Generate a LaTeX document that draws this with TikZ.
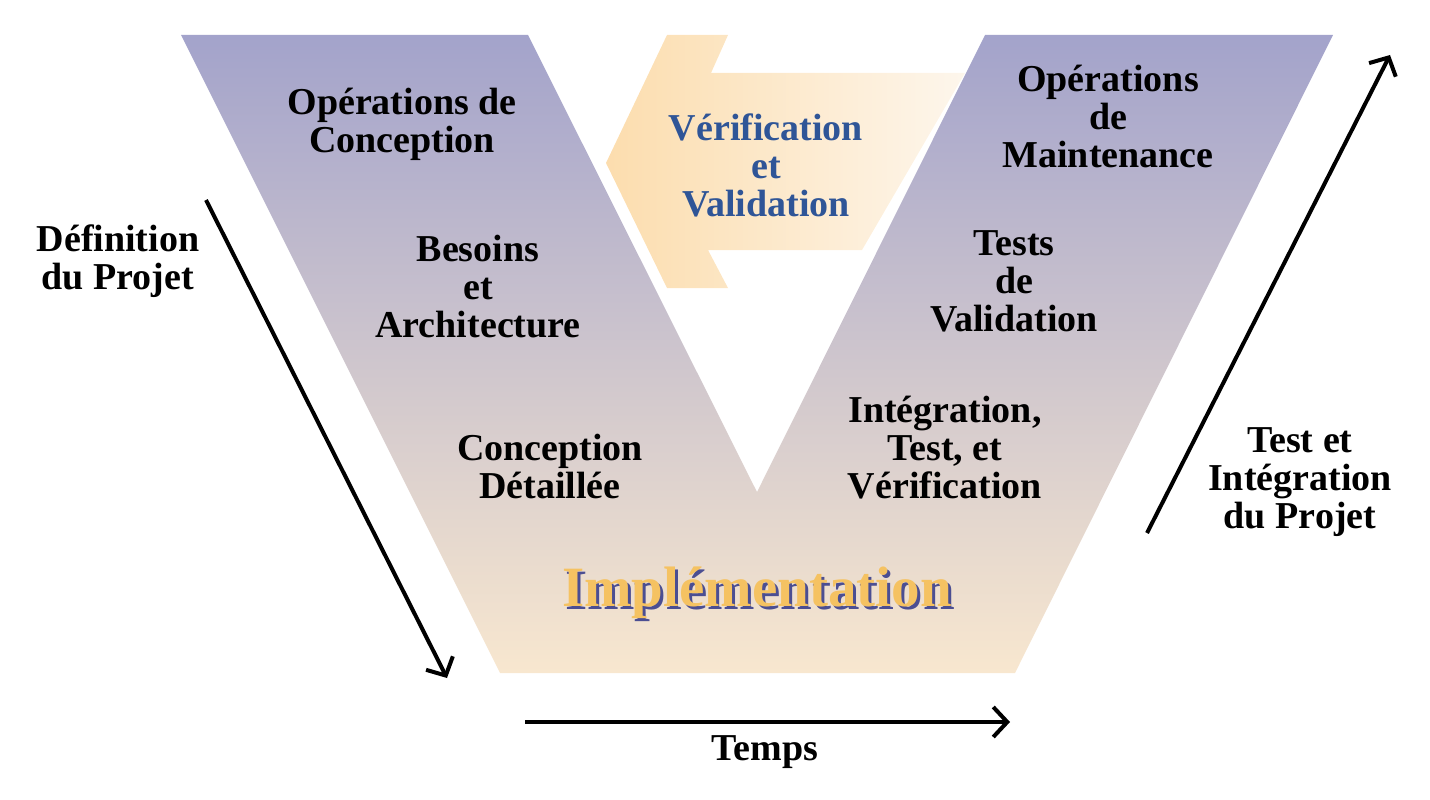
\documentclass[tikz,border=0pt]{standalone}
\usepackage{fontspec}
\setmainfont{Liberation Serif}
\usetikzlibrary{arrows.meta}
\definecolor{vhaut}{HTML}{A3A3CB}
\definecolor{vbas}{HTML}{F8E7CF}
\definecolor{flg}{HTML}{FCDDAE}
\definecolor{fld}{HTML}{FDF6EC}
\definecolor{bleu}{HTML}{2F5597}
\definecolor{jaune}{HTML}{F5C262}
\definecolor{ombre}{HTML}{4B4E92}
\begin{document}
\begin{tikzpicture}
[x=1pt,y=-1pt,
 tx/.style={font=\bfseries\fontsize{38}{38}\selectfont,align=center,inner sep=0pt},
 grand/.style={font=\bfseries\fontsize{57}{57}\selectfont,inner sep=0pt},
 fl/.style={-{Straight Barb[length=14pt,width=30pt]},line width=4pt}]
\useasboundingbox (0,0) rectangle (1430,800);

% le V
\shade [top color=vhaut,bottom color=vbas] (181,35) -- (528,35) -- (757,492) -- (985,35)
  -- (1333,35) -- (1015,673) -- (500,673) -- cycle;
% fleche de retour
\shade [left color=flg,right color=fld] (606,163) -- (667,35) -- (728,35) -- (711,73)
  -- (965,73) -- (862,250) -- (708,250) -- (728,288) -- (667,288) -- cycle;

\node [tx] at (402,124) (opc) {Opérations de\\Conception};
\node [tx] at (478,287) (bes) {Besoins\\et\\Architecture};
\node [tx] at (550,466) (cd) {Conception\\Détaillée};
\node [tx,text=bleu] at (766,165) (vv) {Vérification\\et\\Validation};
\node [tx] at (1108,116) (opm) {Opérations\\de\\Maintenance};
\node [tx] at (1014,281) (tv) {Tests\\de\\Validation};
\node [tx] at (945,448) (itv) {Intégration,\\Test, et\\Vérification};
\node [grand,text=ombre] at (760,596) (imo) {Implémentation};
\node [grand,text=jaune] at (757,593) (imp) {Implémentation};
\node [tx] at (118,261) (dp) {Définition\\du Projet};
\node [tx] at (1300,482) (tip) {Test et\\Intégration\\du Projet};
\node [tx] at (765,752) (tps) {Temps};

\coordinate (g1) at (206,200);
\coordinate (g2) at (447,678);
\coordinate (d1) at (1147,533);
\coordinate (d2) at (1390,55);
\coordinate (t1) at (525,722);
\coordinate (t2) at (1010,722);

\draw [fl] (g1) -- (g2);
\draw [fl] (d1) -- (d2);
\draw [fl] (t1) -- (t2);
\end{tikzpicture}
\end{document}
